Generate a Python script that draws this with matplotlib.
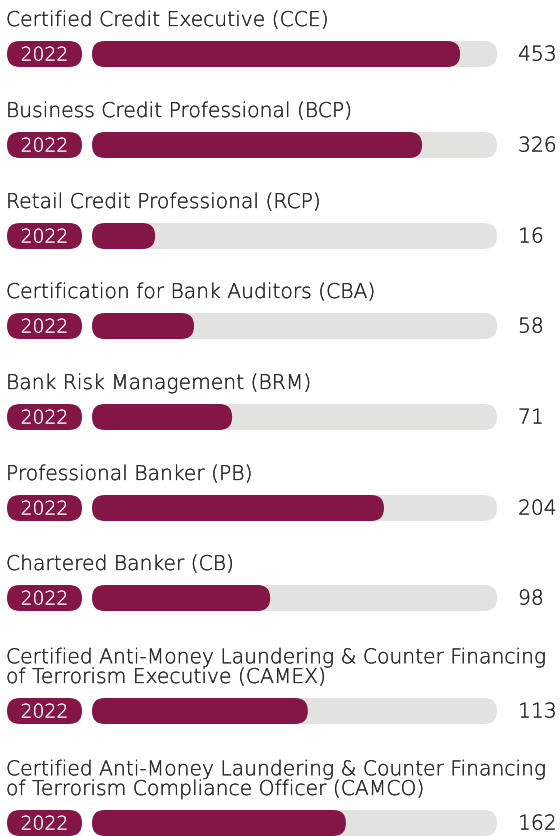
import matplotlib.pyplot as plt
import matplotlib.patheffects as pe
from matplotlib.patches import FancyBboxPatch

# data
labels = [
    "Certified Credit Executive (CCE)",
    "Business Credit Professional (BCP)",
    "Retail Credit Professional (RCP)",
    "Certification for Bank Auditors (CBA)",
    "Bank Risk Management (BRM)",
    "Professional Banker (PB)",
    "Chartered Banker (CB)",
    "Certified Anti-Money Laundering & Counter Financing\nof Terrorism Executive (CAMEX)",
    "Certified Anti-Money Laundering & Counter Financing\nof Terrorism Compliance Officer (CAMCO)",
]
values = [453, 326, 16, 58, 71, 204, 98, 113, 162]
# filled share of the grey track as drawn in the picture (not proportional to value)
fill_share = [0.909, 0.815, 0.156, 0.252, 0.346, 0.721, 0.440, 0.533, 0.627]
year = "2022"

maroon = "#841547"
track_col = "#E2E2DE"
text_col = "#2b2b2b"

plt.rcParams['font.family'] = ['DejaVu Sans']

W, H = 560, 837
fig = plt.figure(figsize=(W / 100, H / 100), dpi=100)
ax = fig.add_axes([0, 0, 1, 1])
ax.set_xlim(0, W)
ax.set_ylim(H, 0)
ax.axis('off')

bar_y = [55, 146, 237, 327, 418, 509, 599, 712, 824]
bar_h = 26
pill_x0, pill_x1 = 7, 82
track_x0, track_x1 = 92, 497

# thin font is a bit too light, thicken it a little
dark_fx = [pe.withStroke(linewidth=0.2, foreground=text_col)]
white_fx = [pe.withStroke(linewidth=0.15, foreground='white')]


def rounded(x0, x1, yc, color):
    p = FancyBboxPatch((x0, yc - bar_h / 2), x1 - x0, bar_h,
                       boxstyle="round,pad=0,rounding_size=13",
                       fc=color, ec='none', mutation_aspect=1)
    ax.add_patch(p)


for lab, val, share, yc in zip(labels, values, fill_share, bar_y):
    # baseline of the last label line sits just above the bar
    ax.text(6, yc - 28, lab, fontsize=14.6, fontweight='light', color=text_col,
            va='baseline', ha='left', linespacing=1.05, path_effects=dark_fx)
    rounded(pill_x0, pill_x1, yc, maroon)
    ax.text((pill_x0 + pill_x1) / 2, yc + 1, year, fontsize=13.5,
            fontweight='light', color='white', ha='center', va='center',
            path_effects=white_fx)
    rounded(track_x0, track_x1, yc, track_col)
    rounded(track_x0, track_x0 + share * (track_x1 - track_x0), yc, maroon)
    ax.text(518, yc + 1, str(val), fontsize=14.6, fontweight='light',
            color=text_col, ha='left', va='center', path_effects=dark_fx)

fig.savefig("out.png", dpi=100)
